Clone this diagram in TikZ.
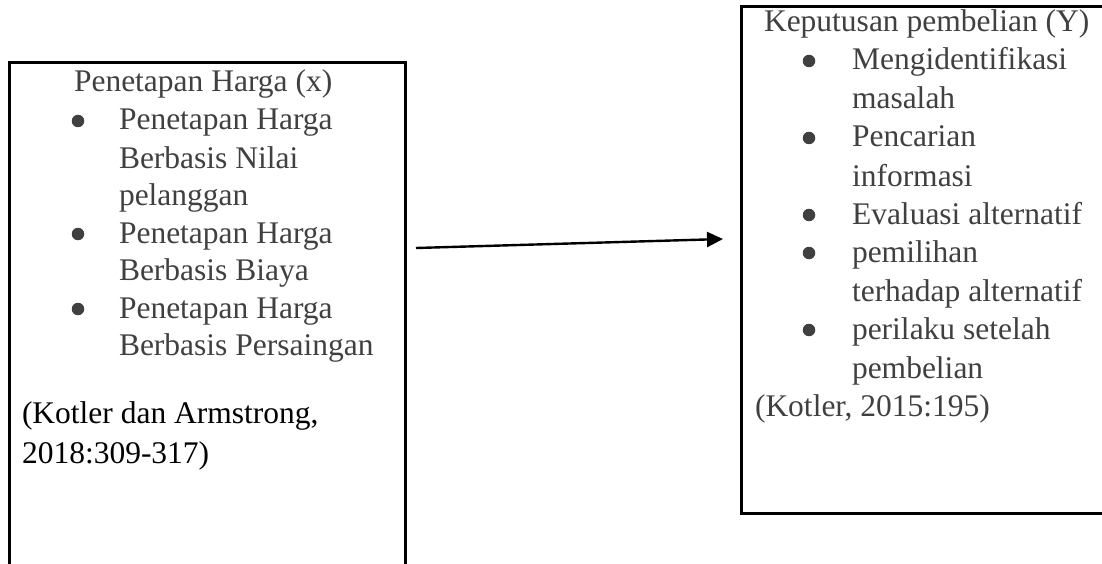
\documentclass[tikz,border=0pt]{standalone}
\usepackage{fontspec}
\setmainfont{Liberation Serif}
\usetikzlibrary{arrows.meta}
\definecolor{txtgray}{HTML}{404040}
\begin{document}
\begin{tikzpicture}[x=1pt,y=-1pt,
  txt/.style={anchor=base west, inner sep=0pt, outer sep=0pt, text=txtgray, font=\fontsize{31.5}{37}\selectfont},
  cite/.style={txt, text=black},
  bul/.style={circle, fill=txtgray, inner sep=0pt, minimum size=12.5pt},
  frame/.style={draw=black, line width=2.6pt, rectangle, inner sep=0pt, anchor=north west},
  link/.style={line width=2.4pt, -{Triangle[length=16pt,width=15pt]}}]
\useasboundingbox (0,0) rectangle (1102,564);
\clip (0,0) rectangle (1102,564);
% frames
\node[frame, minimum width=396pt, minimum height=600pt] (boxX) at (8,61) {};
\node[frame, minimum width=400pt, minimum height=507pt] (boxY) at (740,5) {};
% left box text
\node[txt] (tX) at (74,92) {Penetapan Harga (x)};
\node[bul] (bX1) at (78,121) {};
\node[txt] (x1a) at (119,130) {Penetapan Harga};
\node[txt] (x1b) at (119,168) {Berbasis Nilai};
\node[txt] (x1c) at (119,205) {pelanggan};
\node[bul] (bX2) at (78,234) {};
\node[txt] (x2a) at (119,243) {Penetapan Harga};
\node[txt] (x2b) at (119,280) {Berbasis Biaya};
\node[bul] (bX3) at (78,309) {};
\node[txt] (x3a) at (119,318) {Penetapan Harga};
\node[txt] (x3b) at (119,355) {Berbasis Persaingan};
\node[cite] (cX1) at (22,423) {(Kotler dan Armstrong,};
\node[cite] (cX2) at (22,463) {2018:309-317)};
% right box text
\node[txt] (tY) at (764,32) {Keputusan pembelian (Y)};
\node[bul] (bY1) at (809,61) {};
\node[txt] (y1a) at (852,70) {Mengidentifikasi};
\node[txt] (y1b) at (852,109) {masalah};
\node[bul] (bY2) at (809,138) {};
\node[txt] (y2a) at (852,147) {Pencarian};
\node[txt] (y2b) at (852,186) {informasi};
\node[bul] (bY3) at (809,215) {};
\node[txt] (y3a) at (852,224) {Evaluasi alternatif};
\node[bul] (bY4) at (809,253) {};
\node[txt] (y4a) at (852,262) {pemilihan};
\node[txt] (y4b) at (852,301) {terhadap alternatif};
\node[bul] (bY5) at (809,330) {};
\node[txt] (y5a) at (852,339) {perilaku setelah};
\node[txt] (y5b) at (852,378) {pembelian};
\node[txt] (cY) at (755,416) {(Kotler, 2015:195)};
% arrow
\coordinate (aS) at (416,248);
\coordinate (aE) at (723,239);
\draw[link] (aS) -- (aE);
\end{tikzpicture}
\end{document}
